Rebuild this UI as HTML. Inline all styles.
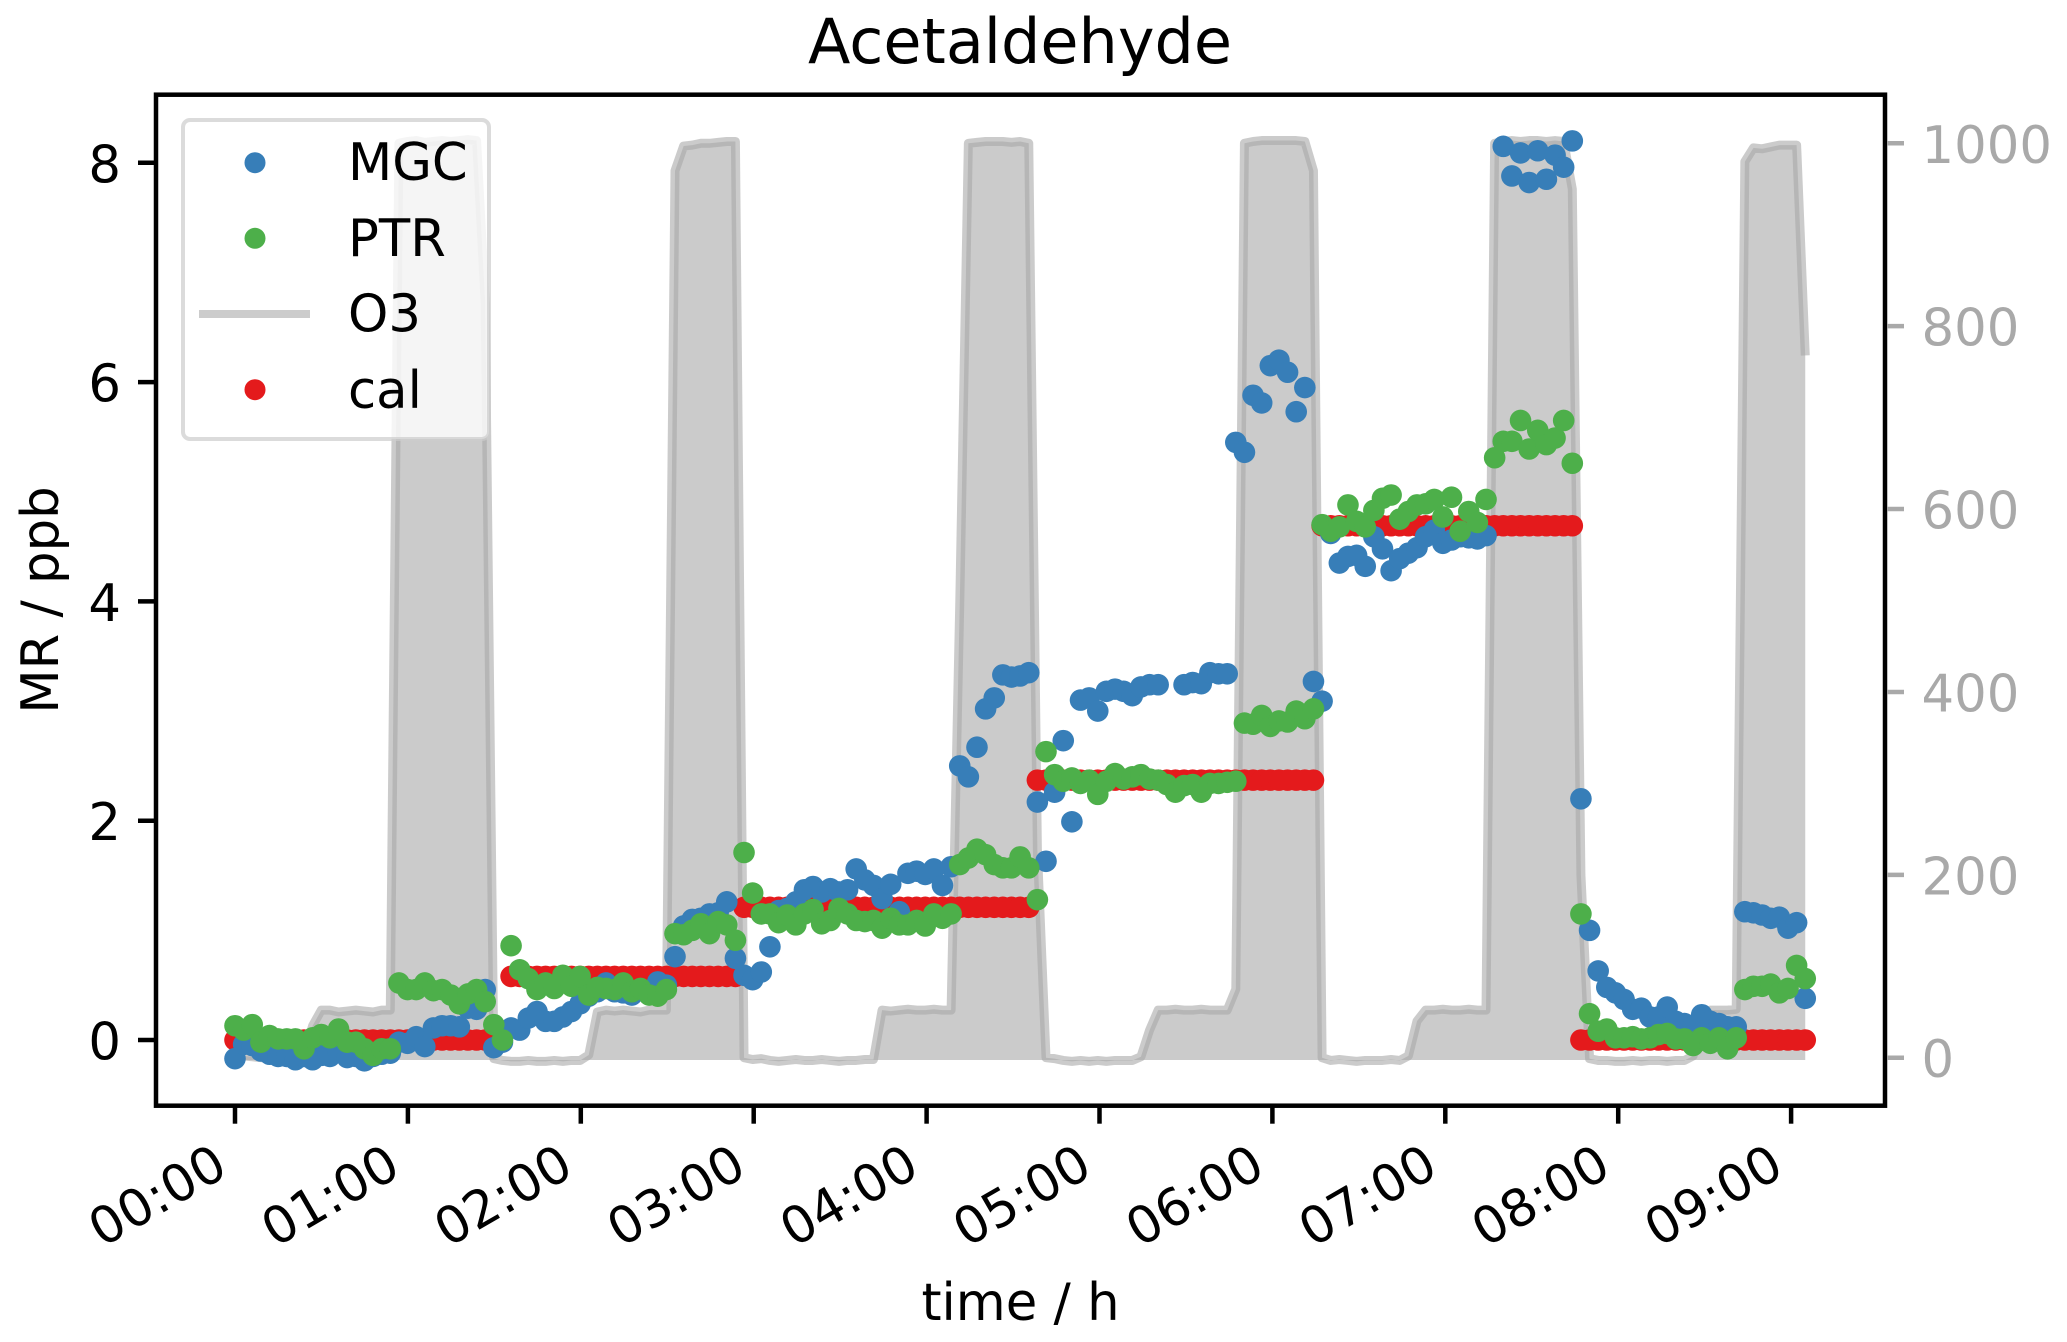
<!DOCTYPE html>
<html lang="en">
<head>
<meta charset="utf-8">
<title>Acetaldehyde</title>
<style>
  html, body { margin: 0; padding: 0; background: #ffffff; }
  svg { display: block; font-family: "DejaVu Sans", "Liberation Sans", sans-serif; }
</style>
</head>
<body>
<svg id="chart" xmlns="http://www.w3.org/2000/svg" width="2067" height="1342" viewBox="0 0 2067 1342">
  <rect x="0" y="0" width="2067" height="1342" fill="#ffffff"/>
  <text x="1020" y="63" font-size="62" text-anchor="middle" fill="#000">Acetaldehyde</text>
  <text x="1020.5" y="1320" font-size="51.25" text-anchor="middle" fill="#000">time / h</text>
  <text x="0" y="0" transform="translate(58,600) rotate(-90)" font-size="51.25" text-anchor="middle" fill="#000">MR / ppb</text>
  <g id="o3-layer"></g>
  <g id="cal-layer"></g>
  <g id="mgc-layer"></g>
  <g id="ptr-layer"></g>
  <g id="axes-layer"></g>
  <g>
    <rect x="183" y="120" width="306" height="319" rx="7" ry="7" fill="#ffffff" fill-opacity="0.8" stroke="#cccccc" stroke-opacity="0.7" stroke-width="4"/>
    <circle cx="255" cy="162.7" r="10.5" fill="#377eb8"/>
    <text x="348" y="180" font-size="51.25" fill="#000">MGC</text>
    <circle cx="255" cy="238.3" r="10.5" fill="#4daf4a"/>
    <text x="348" y="256" font-size="51.25" fill="#000">PTR</text>
    <rect x="199" y="310" width="111" height="8" fill="#cccccc"/>
    <text x="348" y="331.6" font-size="51.25" fill="#000">O3</text>
    <circle cx="255" cy="389.7" r="10.5" fill="#e41a1c"/>
    <text x="348" y="408" font-size="51.25" fill="#000">cal</text>
  </g>
</svg>
<script>
const sampleStepHours = 0.0499;

const mgcValues = [
 -0.17,-0.04,-0.05,-0.10,-0.13,-0.15,-0.15,-0.18,-0.15,-0.18,
 -0.14,-0.15,-0.11,-0.16,-0.15,-0.19,-0.15,-0.13,-0.12,-0.02,
 -0.03,0.03,-0.06,0.11,0.13,0.13,0.12,0.29,0.28,0.46,
 -0.07,-0.02,0.11,0.09,0.20,0.26,0.17,0.17,0.21,0.26,
 0.33,0.40,0.44,0.52,0.44,0.43,0.41,0.46,0.45,0.53,
 0.50,0.76,1.04,1.10,1.11,1.15,1.16,1.26,0.745,0.59,
 0.55,0.62,0.85,1.18,1.20,1.26,1.37,1.40,1.35,1.38,
 1.35,1.37,1.56,1.46,1.41,1.29,1.42,1.17,1.52,1.54,
 1.51,1.56,1.41,1.58,2.50,2.40,2.67,3.02,3.12,3.33,
 3.31,3.32,3.35,2.17,1.63,2.26,2.73,1.99,3.10,3.12,
 3.00,3.18,3.20,3.18,3.14,3.22,3.24,3.24,null,null,
 3.24,3.26,3.25,3.35,3.34,3.34,5.45,5.36,5.88,5.81,
 6.15,6.20,6.09,5.73,5.95,3.27,3.09,4.62,4.35,4.41,
 4.42,4.32,4.59,4.48,4.28,4.39,4.44,4.49,4.59,4.65,
 4.53,4.56,4.59,4.58,4.57,4.60,null,8.15,7.88,8.09,
 7.82,8.11,7.85,8.07,7.96,8.20,2.20,1.00,0.63,0.48,
 0.43,0.37,0.28,0.29,0.21,0.21,0.30,0.17,0.15,0.12,
 0.23,0.17,0.15,0.12,0.12,1.17,1.16,1.14,1.11,1.12,
 1.02,1.07,0.38
];

const ptrValues = [
 0.13,0.09,0.14,-0.02,0.04,0.01,0.01,0.01,-0.08,0.02,
 0.05,0.02,0.10,-0.02,-0.02,-0.08,-0.14,-0.08,-0.08,0.52,
 0.46,0.46,0.52,0.45,0.46,0.41,0.33,0.42,0.46,0.35,
 0.14,0.00,0.86,0.64,0.56,0.46,0.52,0.47,0.59,0.49,
 0.58,0.41,0.48,0.47,0.46,0.52,0.44,0.47,0.41,0.40,
 0.46,0.97,0.96,1.00,1.06,0.97,1.08,1.05,0.91,1.71,
 1.34,1.15,1.15,1.07,1.14,1.05,1.15,1.19,1.06,1.09,
 1.20,1.15,1.09,1.08,1.09,1.02,1.11,1.05,1.05,1.09,
 1.04,1.15,1.11,1.15,1.60,1.66,1.74,1.69,1.60,1.57,
 1.57,1.67,1.57,1.28,2.63,2.42,2.36,2.39,2.34,2.37,
 2.24,2.36,2.43,2.38,2.40,2.42,2.38,2.37,2.33,2.26,
 2.32,2.33,2.26,2.34,2.34,2.35,2.36,2.89,2.88,2.96,
 2.86,2.91,2.90,3.00,2.93,3.02,4.70,4.64,4.68,4.88,
 4.73,4.68,4.83,4.94,4.97,4.75,4.82,4.88,4.89,4.93,
 4.77,4.95,4.64,4.82,4.72,4.93,5.31,5.46,5.46,5.65,
 5.39,5.56,5.43,5.49,5.65,5.26,1.15,0.24,0.08,0.10,
 0.02,0.02,0.03,0.01,0.02,0.05,0.06,0.01,0.01,-0.05,
 0.02,-0.03,0.02,-0.08,0.02,0.46,0.49,0.49,0.51,0.43,
 0.47,0.68,0.56
];

const calValues = [
 0,0,0,0,0,0,0,0,0,0,
 0,0,0,0,0,0,0,0,0,0,
 0,0,0,0,0,0,0,0,0,0,
 null,null,0.58,0.58,0.58,0.58,0.58,0.58,0.58,0.58,
 0.58,0.58,0.58,0.58,0.58,0.58,0.58,0.58,0.58,0.58,
 0.58,0.58,0.58,0.58,0.58,0.58,0.58,0.58,0.58,1.21,
 1.21,1.21,1.21,1.21,1.21,1.21,1.21,1.21,1.21,1.21,
 1.21,1.21,1.21,1.21,1.21,1.21,1.21,1.21,1.21,1.21,
 1.21,1.21,1.21,1.21,1.21,1.21,1.21,1.21,1.21,1.21,
 1.21,1.21,1.21,2.37,2.37,2.37,2.37,2.37,2.37,2.37,
 2.37,2.37,2.37,2.37,2.37,2.37,2.37,2.37,2.37,2.37,
 2.37,2.37,2.37,2.37,2.37,2.37,2.37,2.37,2.37,2.37,
 2.37,2.37,2.37,2.37,2.37,2.37,4.69,4.69,4.69,4.69,
 4.69,4.69,4.69,4.69,4.69,4.69,4.69,4.69,4.69,4.69,
 4.69,4.69,4.69,4.69,4.69,4.69,4.69,4.69,4.69,4.69,
 4.69,4.69,4.69,4.69,4.69,4.69,0,0,0,0,
 0,0,0,0,0,0,0,0,0,0,
 0,0,0,0,0,0,0,0,0,0,
 0,0,0
];

const o3Values = [
 2,2,1,0,-1,-1,0,1,3,35,
 52,52,50,51,52,51,50,52,52,1000,
 1002,1003,1001,1002,1003,1002,1003,1004,1003,825,
 -1,-3,-4,-4,-3,-4,-4,-3,-4,-3,
 -3,3,50,52,51,52,51,50,52,52,
 52,970,997,998,1000,1000,1001,1002,1002,0,
 -2,-1,-3,-4,-3,-2,-3,-3,-2,-3,
 -4,-3,-3,-2,-2,52,51,52,53,52,
 52,53,52,52,495,1000,1001,1002,1002,1002,
 1001,1002,1000,227,0,-1,-3,-4,-3,-4,
 -3,-4,-3,-3,-3,1,30,52,52,53,
 52,52,53,52,52,52,75,1000,1002,1003,
 1003,1003,1003,1003,1002,970,0,-3,-2,-3,
 -4,-3,-3,-3,-2,-3,2,40,52,52,
 53,52,52,53,52,52,1000,1002,1003,1002,
 1003,1003,1002,1003,1002,950,200,-1,-3,-3,
 -4,-4,-3,-4,-3,-3,-4,-3,-3,2,
 48,52,52,52,53,980,995,994,996,998,
 998,998,768
];

const xTickHours = [0,1,2,3,4,5,6,7,8,9];
const xTickLabels = ["00:00","01:00","02:00","03:00","04:00","05:00","06:00","07:00","08:00","09:00"];
const yLeftTicks = [0,2,4,6,8];
const yRightTicks = [0,200,400,600,800,1000];
const o3FillBase = -2.5;

const NS = "http://www.w3.org/2000/svg";
const plotLeft = 156, plotRight = 1885, plotTop = 94.7, plotBottom = 1105.7;

function xScale(h) { return 235 + 172.9 * h; }
function yLeft(v) { return 1040 - 109.65 * v; }
function yRight(v) { return 1057.7 - 0.9144 * v; }
function make(tag, attrs, parent) {
  const e = document.createElementNS(NS, tag);
  for (const k in attrs) e.setAttribute(k, attrs[k]);
  parent.appendChild(e);
  return e;
}

const o3Layer = document.getElementById("o3-layer");
const o3Pts = o3Values.map((v, i) => xScale(i * sampleStepHours).toFixed(2) + "," + yRight(v).toFixed(2));
const firstX = xScale(0).toFixed(2);
const lastX = xScale((o3Values.length - 1) * sampleStepHours).toFixed(2);
const baseY = yRight(o3FillBase).toFixed(2);
const o3Fill = make("polygon", { points: firstX + "," + baseY + " " + o3Pts.join(" ") + " " + lastX + "," + baseY, fill: "#a9a9a9", "fill-opacity": "0.6", stroke: "none" }, o3Layer);


const o3Line = make("polyline", { points: o3Pts.join(" "), fill: "none", stroke: "#a9a9a9", "stroke-opacity": "0.6", "stroke-width": "9", "stroke-linejoin": "round", "stroke-linecap": "butt" }, o3Layer);



function drawDots(layerId, values, color, markName) {
  const layer = document.getElementById(layerId);
  values.forEach((v, i) => {
    if (v === null) return;
    const dot = make("circle", { cx: xScale(i * sampleStepHours).toFixed(2), cy: yLeft(v).toFixed(2), r: "10.8", fill: color }, layer);
    
    
  });
}
drawDots("cal-layer", calValues, "#e41a1c", "cal-point");
drawDots("mgc-layer", mgcValues, "#377eb8", "mgc-point");
drawDots("ptr-layer", ptrValues, "#4daf4a", "ptr-point");

const axes = document.getElementById("axes-layer");
const frame = make("rect", { x: plotLeft, y: plotTop, width: plotRight - plotLeft, height: plotBottom - plotTop, fill: "none", stroke: "#000", "stroke-width": "4.5" }, axes);



xTickHours.forEach((h, i) => {
  const x = xScale(h);
  const tick = make("line", { x1: x, x2: x, y1: plotBottom, y2: plotBottom + 18, stroke: "#000", "stroke-width": "4.5" }, axes);
  
  
  const ax = x - 5, ay = 1174;
  const label = make("text", { x: ax, y: ay, "font-size": "51.25", "text-anchor": "end", fill: "#000", transform: "rotate(-30 " + ax + " " + ay + ")" }, axes);
  label.textContent = xTickLabels[i];
  
  
});

yLeftTicks.forEach((v) => {
  const y = yLeft(v);
  const tick = make("line", { x1: plotLeft - 18, x2: plotLeft, y1: y, y2: y, stroke: "#000", "stroke-width": "4.5" }, axes);
  
  
  const label = make("text", { x: 121, y: y + 19.5, "font-size": "51.25", "text-anchor": "end", fill: "#000" }, axes);
  label.textContent = String(v);
  
  
});

yRightTicks.forEach((v) => {
  const y = yRight(v);
  const tick = make("line", { x1: plotRight + 2, x2: plotRight + 19, y1: y, y2: y, stroke: "#a9a9a9", "stroke-width": "4.5" }, axes);
  
  
  const label = make("text", { x: 1921.5, y: y + 19.5, "font-size": "51.25", fill: "#a9a9a9" }, axes);
  label.textContent = String(v);
  
  
});
</script>
</body>
</html>
